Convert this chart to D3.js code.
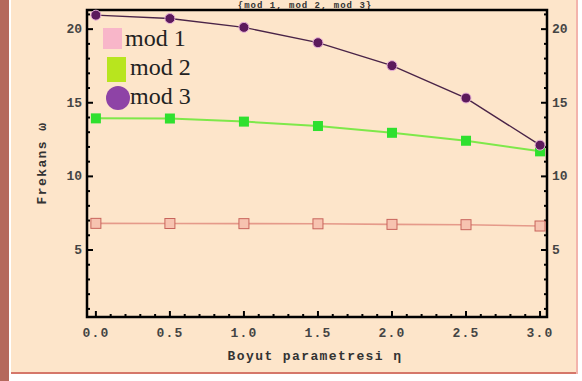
<!DOCTYPE html>
<html>
<head>
<meta charset="utf-8">
<script src="https://cdn.jsdelivr.net/npm/d3@7"></script>
<style>
  html, body { margin: 0; padding: 0; background: #ffffff; }
  svg { display: block; }
</style>
</head>
<body>
<svg id="chart" width="582" height="381"></svg>
<script>
// Size parameter η and the first three natural frequencies ω
const eta = [0.0, 0.5, 1.0, 1.5, 2.0, 2.5, 3.0];
const mod1 = [6.81, 6.80, 6.79, 6.78, 6.74, 6.72, 6.63];
const mod2 = [13.94, 13.93, 13.72, 13.42, 12.96, 12.42, 11.70];
const mod3 = [20.95, 20.72, 20.12, 19.08, 17.52, 15.32, 12.12];

const seriesNames = ["mod 1", "mod 2", "mod 3"];
const xTicks = [0.0, 0.5, 1.0, 1.5, 2.0, 2.5, 3.0];
const yTicks = [5, 10, 15, 20];
const titleText = "{mod 1, mod 2, mod 3}";
const xLabel = "Boyut parametresi η";
const yLabel = "Frekans ω";

const svg = d3.select("#chart");

// outer panel
svg.append("rect").attr("x", 0).attr("y", 0).attr("width", 582).attr("height", 381).attr("fill", "#ffffff");
svg.append("rect").attr("x", 11).attr("y", 0).attr("width", 567).attr("height", 374).attr("fill", "#fde5ca");
svg.append("rect").attr("x", 0).attr("y", 0).attr("width", 9).attr("height", 381).attr("fill", "#b5695c");
svg.append("line").attr("x1", 11).attr("x2", 578).attr("y1", 373).attr("y2", 373)
  .attr("stroke", "#d5776a").attr("stroke-width", 2);
svg.append("line").attr("x1", 577).attr("x2", 577).attr("y1", 0).attr("y2", 374)
  .attr("stroke", "#f3b4ac").attr("stroke-width", 2);

// plot area
const L = 87, R = 547, T = 10, B = 317;
const x = d3.scaleLinear().domain([-0.06, 3.047]).range([L, R]);
const y = d3.scaleLinear().domain([0.45, 21.3]).range([B, T]);

const tickFont = "'Liberation Mono', 'Courier New', monospace";

// title in the strip above the frame
svg.append("text").attr("x", 305).attr("y", 8).attr("text-anchor", "middle")
  .attr("font-family", tickFont).attr("font-weight", "bold").attr("font-size", 9)
  .attr("letter-spacing", 1).attr("fill", "#333").text(titleText);

// tick generation
const xMinor = d3.range(0, 31).map(d => d / 10).filter(d => Math.abs(d * 2 - Math.round(d * 2)) > 1e-6);
const yMinor = d3.range(1, 22).filter(d => d % 5 !== 0);

const axisG = svg.append("g");

// bottom axis ticks (inward)
xTicks.forEach(v => axisG.append("line").attr("x1", x(v)).attr("x2", x(v)).attr("y1", B).attr("y2", B - 6)
  .attr("stroke", "#000").attr("stroke-width", 2));
xMinor.forEach(v => axisG.append("line").attr("x1", x(v)).attr("x2", x(v)).attr("y1", B).attr("y2", B - 3)
  .attr("stroke", "#000").attr("stroke-width", 2));
// left and right axis ticks (inward)
yTicks.forEach(v => {
  axisG.append("line").attr("x1", L).attr("x2", L + 6).attr("y1", y(v)).attr("y2", y(v)).attr("stroke", "#000").attr("stroke-width", 2);
  axisG.append("line").attr("x1", R).attr("x2", R - 6).attr("y1", y(v)).attr("y2", y(v)).attr("stroke", "#000").attr("stroke-width", 2);
});
yMinor.forEach(v => {
  axisG.append("line").attr("x1", L).attr("x2", L + 3).attr("y1", y(v)).attr("y2", y(v)).attr("stroke", "#000").attr("stroke-width", 2);
  axisG.append("line").attr("x1", R).attr("x2", R - 3).attr("y1", y(v)).attr("y2", y(v)).attr("stroke", "#000").attr("stroke-width", 2);
});

// frame
svg.append("rect").attr("x", L).attr("y", T).attr("width", R - L).attr("height", B - T)
  .attr("fill", "none").attr("stroke", "#000").attr("stroke-width", 2.5);

// tick labels
const fmt = d3.format(".1f");
xTicks.forEach(v => svg.append("text").attr("x", x(v)).attr("y", B + 20).attr("text-anchor", "middle")
  .attr("font-family", tickFont).attr("font-weight", "bold").attr("font-size", 13).attr("letter-spacing", 1.2)
  .attr("fill", "#444").text(fmt(v)));
yTicks.forEach(v => {
  svg.append("text").attr("x", L - 5).attr("y", y(v) + 4).attr("text-anchor", "end")
    .attr("font-family", tickFont).attr("font-weight", "bold").attr("font-size", 13).attr("fill", "#444").text(v);
  svg.append("text").attr("x", R + 5).attr("y", y(v) + 4).attr("text-anchor", "start")
    .attr("font-family", tickFont).attr("font-weight", "bold").attr("font-size", 13).attr("fill", "#444").text(v);
});

// axis titles
svg.append("text").attr("x", 315).attr("y", 360).attr("text-anchor", "middle")
  .attr("font-family", tickFont).attr("font-weight", "bold").attr("font-size", 13).attr("letter-spacing", 1.4)
  .attr("fill", "#333").text(xLabel);
svg.append("text").attr("transform", "translate(46,163) rotate(-90)").attr("text-anchor", "middle")
  .attr("font-family", tickFont).attr("font-weight", "bold").attr("font-size", 13).attr("letter-spacing", 1.4)
  .attr("fill", "#333").text(yLabel);

// series
const line = d3.line().x(d => x(d[0])).y(d => y(d[1]));
const plotG = svg.append("g");

const p1 = eta.map((e, i) => [e, mod1[i]]);
const p2 = eta.map((e, i) => [e, mod2[i]]);
const p3 = eta.map((e, i) => [e, mod3[i]]);

plotG.append("path").attr("d", line(p1)).attr("fill", "none").attr("stroke", "#e59a8a").attr("stroke-width", 1.6);
plotG.append("path").attr("d", line(p2)).attr("fill", "none").attr("stroke", "#7ee84a").attr("stroke-width", 2);
plotG.append("path").attr("d", line(p3)).attr("fill", "none").attr("stroke", "#4a2448").attr("stroke-width", 1.4);

plotG.selectAll(".m1").data(p1).join("rect")
  .attr("x", d => x(d[0]) - 5).attr("y", d => y(d[1]) - 5).attr("width", 10).attr("height", 10)
  .attr("fill", "#f7c3b0").attr("stroke", "#c8645c").attr("stroke-width", 1);
plotG.selectAll(".m2").data(p2).join("rect")
  .attr("x", d => x(d[0]) - 5).attr("y", d => y(d[1]) - 5).attr("width", 10).attr("height", 10)
  .attr("fill", "#2fe02f");
plotG.selectAll(".m3").data(p3).join("circle")
  .attr("cx", d => x(d[0])).attr("cy", d => y(d[1])).attr("r", 5)
  .attr("fill", "#5c1a5c").attr("stroke", "#e8b0d8").attr("stroke-width", 1);

// legend
const legG = svg.append("g");
const legFont = "'Liberation Serif', 'Times New Roman', serif";
legG.append("rect").attr("x", 103).attr("y", 28).attr("width", 19).attr("height", 21).attr("fill", "#f8b6c9");
legG.append("rect").attr("x", 107).attr("y", 57).attr("width", 19).attr("height", 25).attr("fill", "#b8e51e");
legG.append("circle").attr("cx", 118).attr("cy", 98).attr("r", 12).attr("fill", "#8e43a6");
[[125, 46], [130, 75], [130, 104]].forEach((pos, i) => {
  legG.append("text").attr("x", pos[0]).attr("y", pos[1])
    .attr("font-family", legFont).attr("font-size", 24).attr("fill", "#222").text(seriesNames[i]);
});
</script>
</body>
</html>
